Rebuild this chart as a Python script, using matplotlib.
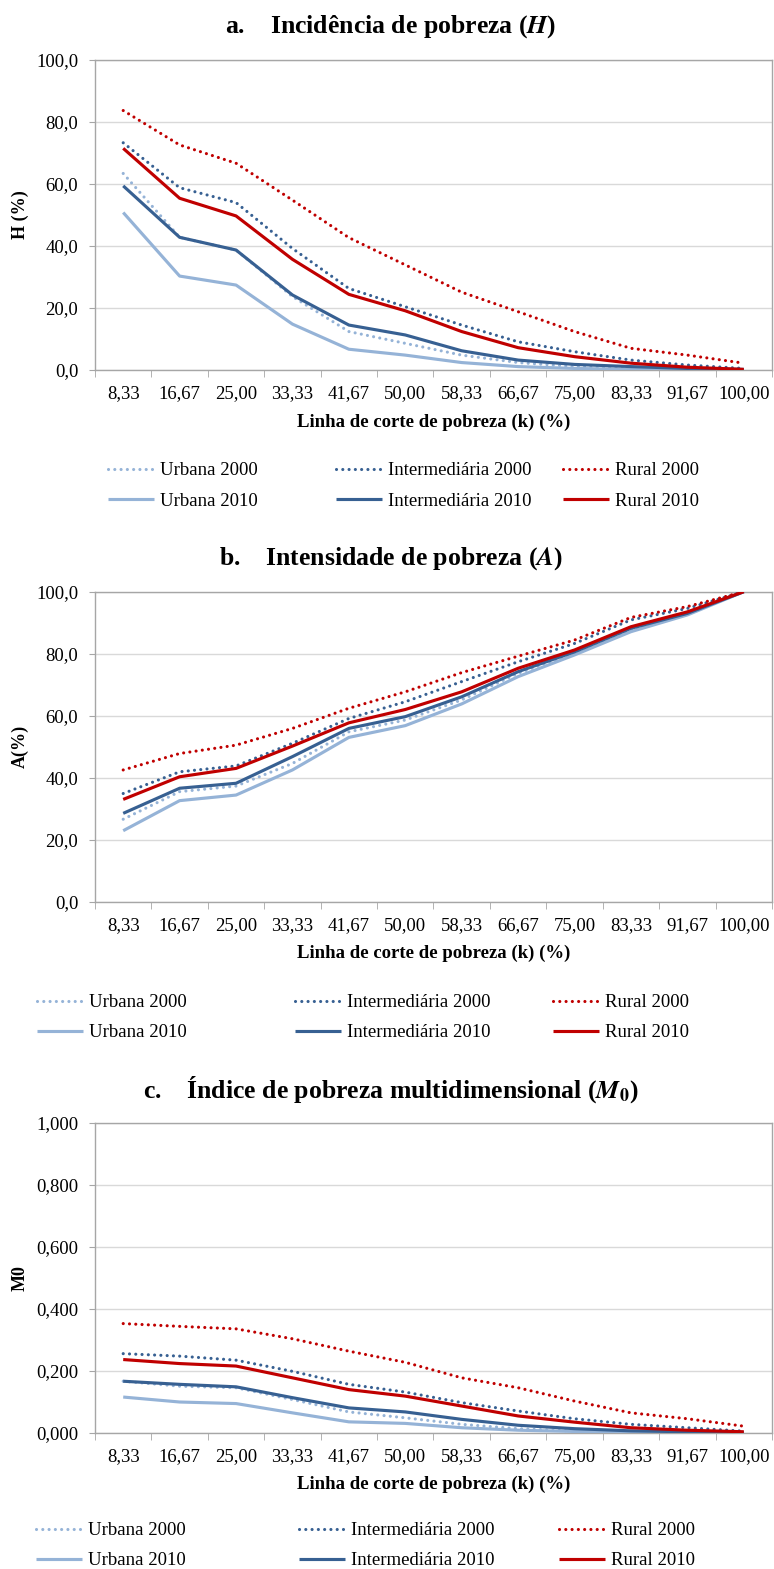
import matplotlib
matplotlib.use("Agg")
import matplotlib.pyplot as plt
from matplotlib.ticker import FixedLocator, FuncFormatter, NullFormatter
import numpy as np

plt.rcParams['font.family'] = ['Liberation Serif', 'DejaVu Serif']
plt.rcParams['mathtext.fontset'] = 'stix'

categories = ["8,33", "16,67", "25,00", "33,33", "41,67", "50,00",
              "58,33", "66,67", "75,00", "83,33", "91,67", "100,00"]

series_names = ["Urbana 2000", "Intermediária 2000", "Rural 2000",
                "Urbana 2010", "Intermediária 2010", "Rural 2010"]

# Panel a: H (%)
H_urbana_2000 = [63.4, 42.8, 38.7, 23.7, 12.4, 8.6, 4.8, 2.4, 1.1, 0.5, 0.2, 0.1]
H_inter_2000 = [73.3, 58.8, 54.0, 39.2, 26.3, 20.4, 14.5, 9.1, 5.9, 3.2, 1.6, 0.5]
H_rural_2000 = [83.7, 72.6, 66.7, 54.8, 42.7, 33.9, 25.1, 18.8, 12.4, 7.0, 4.8, 2.2]
H_urbana_2010 = [50.8, 30.3, 27.4, 14.8, 6.7, 4.8, 2.4, 1.1, 0.5, 0.2, 0.1, 0.0]
H_inter_2010 = [59.4, 42.8, 38.7, 24.2, 14.5, 11.3, 6.2, 3.2, 1.8, 1.1, 0.5, 0.2]
H_rural_2010 = [71.5, 55.4, 49.7, 35.7, 24.4, 19.1, 12.4, 7.2, 4.3, 2.2, 0.9, 0.2]

# Panel b: A (%)
A_urbana_2000 = [26.6, 35.5, 37.3, 44.6, 54.8, 58.6, 65.1, 73.7, 80.1, 87.8, 92.8, 100.0]
A_inter_2000 = [34.9, 41.9, 43.8, 51.1, 59.1, 64.5, 71.0, 77.4, 83.3, 90.9, 94.6, 100.0]
A_rural_2000 = [42.5, 47.8, 50.5, 55.9, 62.4, 67.7, 73.9, 79.2, 84.4, 91.7, 95.2, 100.0]
A_urbana_2010 = [22.9, 32.6, 34.4, 42.5, 53.0, 56.8, 63.8, 72.6, 79.6, 87.1, 92.5, 100.0]
A_inter_2010 = [28.5, 36.6, 38.2, 46.8, 55.9, 59.7, 66.1, 74.2, 80.6, 88.2, 93.0, 100.0]
A_rural_2010 = [33.0, 40.3, 43.0, 50.2, 57.7, 62.0, 67.7, 75.3, 81.2, 88.7, 93.5, 100.0]

# Panel c: M0
M_urbana_2000 = [0.166, 0.150, 0.145, 0.107, 0.067, 0.048, 0.027, 0.013, 0.005, 0.002, 0.001, 0.000]
M_inter_2000 = [0.255, 0.247, 0.234, 0.198, 0.156, 0.131, 0.097, 0.070, 0.045, 0.027, 0.016, 0.005]
M_rural_2000 = [0.352, 0.343, 0.335, 0.303, 0.263, 0.227, 0.177, 0.145, 0.102, 0.064, 0.045, 0.021]
M_urbana_2010 = [0.115, 0.099, 0.094, 0.064, 0.035, 0.030, 0.016, 0.008, 0.004, 0.002, 0.001, 0.000]
M_inter_2010 = [0.166, 0.156, 0.148, 0.113, 0.080, 0.067, 0.043, 0.024, 0.013, 0.006, 0.003, 0.001]
M_rural_2010 = [0.236, 0.223, 0.215, 0.177, 0.139, 0.118, 0.086, 0.054, 0.034, 0.016, 0.008, 0.003]

LIGHT = "#95B3D7"
DARK = "#376092"
RED = "#C00000"
colors = [LIGHT, DARK, RED, LIGHT, DARK, RED]
dotted = [True, True, True, False, False, False]

W, Hpx = 774, 1569
fig = plt.figure(figsize=(W / 100, Hpx / 100), dpi=100)

panels = [
    dict(data=[H_urbana_2000, H_inter_2000, H_rural_2000, H_urbana_2010, H_inter_2010, H_rural_2010],
         top=60, ymax=100, yticks=[0, 20, 40, 60, 80, 100], fmt="{:.1f}", ylabel="H (%)",
         title=r"a.    Incidência de pobreza ($\mathbfit{H}$)",
         leg_x=[108, 336, 563], leg_off=116),
    dict(data=[A_urbana_2000, A_inter_2000, A_rural_2000, A_urbana_2010, A_inter_2010, A_rural_2010],
         top=591.7, ymax=100, yticks=[0, 20, 40, 60, 80, 100], fmt="{:.1f}", ylabel="A(%)",
         title=r"b.    Intensidade de pobreza ($\mathbfit{A}$)",
         leg_x=[37, 295, 553], leg_off=116),
    dict(data=[M_urbana_2000, M_inter_2000, M_rural_2000, M_urbana_2010, M_inter_2010, M_rural_2010],
         top=1122.7, ymax=1.0, yticks=[0, 0.2, 0.4, 0.6, 0.8, 1.0], fmt="{:.3f}", ylabel="M0",
         title=r"c.    Índice de pobreza multidimensional ($\mathbfit{M}_{\mathbf{0}}$)",
         leg_x=[36, 299, 559], leg_off=113),
]

AX_LEFT, AX_RIGHT, AX_H = 95, 772, 310
x = np.arange(len(categories))
FS = 13.5

for p in panels:
    top = p["top"]
    bottom = top + AX_H
    ax = fig.add_axes([AX_LEFT / W, 1 - bottom / Hpx, (AX_RIGHT - AX_LEFT) / W, AX_H / Hpx])
    ax.set_xlim(-0.5, len(categories) - 0.5)
    ax.set_ylim(0, p["ymax"])
    ax.set_yticks(p["yticks"])
    fmt = p["fmt"]
    ax.yaxis.set_major_formatter(FuncFormatter(lambda v, pos, f=fmt: f.format(v).replace(".", ",")))
    ax.grid(axis="y", color="#D9D9D9", linewidth=1.0, zorder=0)
    ax.set_axisbelow(True)
    for s in ax.spines.values():
        s.set_color("#A6A6A6")
        s.set_linewidth(1.0)
    ax.set_xticks(x)
    ax.set_xticklabels(categories)
    ax.xaxis.set_minor_locator(FixedLocator(np.arange(-0.5, len(categories) + 0.5, 1.0)))
    ax.xaxis.set_minor_formatter(NullFormatter())
    ax.tick_params(axis="x", which="major", length=0, pad=11, labelsize=FS)
    ax.tick_params(axis="x", which="minor", length=5, color="#A6A6A6", direction="out")
    ax.tick_params(axis="y", which="major", length=4, color="#A6A6A6", pad=8, labelsize=FS)

    handles = []
    for vals, c, d, name in zip(p["data"], colors, dotted, series_names):
        if d:
            ln, = ax.plot(x, vals, color=c, linewidth=2.25, linestyle=(0, (0.01, 2)),
                          dash_capstyle="round", label=name, zorder=3)
        else:
            ln, = ax.plot(x, vals, color=c, linewidth=2.25, linestyle="-",
                          solid_capstyle="butt", label=name, zorder=3)
        handles.append(ln)

    ax.set_ylabel(p["ylabel"], fontsize=13, fontweight="bold")
    ax.yaxis.set_label_coords(-(AX_LEFT - 29) / (AX_RIGHT - AX_LEFT), 0.5)
    ax.set_xlabel("Linha de corte de pobreza (k) (%)", fontsize=FS, fontweight="bold", labelpad=8)

    fig.text(391 / W, 1 - (top - 33) / Hpx, p["title"], fontsize=18.5, fontweight="bold",
             ha="center", va="center")

    mid_y = bottom + p["leg_off"]
    for col in range(3):
        hs = [handles[col], handles[col + 3]]
        fig.legend(hs, [h.get_label() for h in hs], loc="center left",
                   bbox_to_anchor=(p["leg_x"][col] / W, 1 - mid_y / Hpx),
                   frameon=False, fontsize=FS, handlelength=2.45, handletextpad=0.3,
                   borderpad=0, borderaxespad=0, labelspacing=0.7)

fig.savefig("out.png", dpi=100)
